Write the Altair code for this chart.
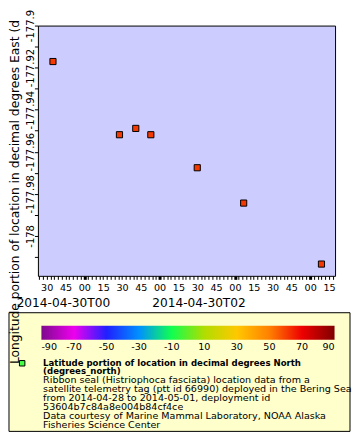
import altair as alt
import pandas as pd

# ---------------- data ----------------
times = ["2014-04-29T23:35:00Z", "2014-04-30T00:28:00Z", "2014-04-30T00:41:00Z",
         "2014-04-30T00:53:00Z", "2014-04-30T01:30:00Z", "2014-04-30T02:07:00Z",
         "2014-04-30T03:09:00Z"]
longitudes = [-177.9171, -177.9519, -177.9489, -177.9519, -177.9676, -177.9844, -178.0134]
latitudes = [61.0, 61.1, 61.1, 61.1, 61.2, 61.2, 61.3]

legend_values = [-90, -70, -50, -30, -10, 10, 30, 50, 70, 90]
legend_colors = ["#7d0a8c", "#ee00ee", "#2020ff", "#0090ff", "#10ff50",
                 "#b0dd00", "#ffc800", "#ff8000", "#ee0000", "#800000"]

date_labels = ["2014-04-30T00", "2014-04-30T02"]
date_label_times = ["2014-04-30T00:00:00Z", "2014-04-30T02:00:00Z"]

y_title = "Longitude portion of location in decimal degrees East (d"
bold_lines = ["Latitude portion of location in decimal degrees North", "(degrees_north)"]
desc_lines = ["Ribbon seal (Histriophoca fasciata) location data from a",
              "satellite telemetry tag (ptt id 66990) deployed in the Bering Sea",
              "from 2014-04-28 to 2014-05-01, deployment id",
              "53604b7c84a8e004b84cf4ce",
              "Data courtesy of Marine Mammal Laboratory, NOAA Alaska",
              "Fisheries Science Center"]

y_domain = [-178.019, -177.9]
y_ticks = [round(-178.01 + 0.01 * i, 2) for i in range(12)]
x_ticks = [int(t.value // 10**6) for t in
           pd.date_range("2014-04-29T23:24:00", "2014-04-30T03:18:00", freq="3min", tz="UTC")]

df = pd.DataFrame({"time": times, "lon": longitudes, "lat": latitudes})
one = pd.DataFrame({"k": [0]})

FONT = "DejaVu Sans"
W, H = 298, 251
PT = 24.0   # page y of plot top
PL = 37.5   # page x of plot left

xscale = alt.Scale(type="utc",
                   domain=[alt.DateTime(year=2014, month=4, date=29, hours=23, minutes=23, utc=True),
                           alt.DateTime(year=2014, month=4, date=30, hours=3, minutes=19, seconds=50, utc=True)])
yscale = alt.Scale(domain=y_domain, nice=False, zero=False)

xaxis = alt.Axis(title=None, values=x_ticks, grid=False, domain=False,
                 labelExpr="utcminutes(datum.value) % 15 == 0 ? utcFormat(datum.value, '%M') : ''",
                 labelFont=FONT, labelFontSize=9.6, labelColor="black",
                 labelFlush=False, labelOverlap=False, labelBound=False,
                 labelBaseline="alphabetic", labelPadding=11.5,
                 tickSize=3.5, tickColor="black",
                 tickWidth={"condition": {"test": "utcminutes(datum.value) == 0", "value": 3}, "value": 1},
                 zindex=1)

yaxis = alt.Axis(title=y_title, values=y_ticks, grid=False, domain=False,
                 labelExpr="round(datum.value * 100) % 2 == 0 ? '' + datum.value : ''",
                 labelFont=FONT, labelFontSize=10, labelColor="black",
                 labelAngle=270, labelAlign="center", labelBaseline="alphabetic",
                 labelPadding=1, labelOverlap=False, labelFlush=False,
                 tickSize=3.5, tickColor="black",
                 titleFont=FONT, titleFontSize=12.3, titleFontWeight="normal", titleColor="black",
                 titleAngle=270, titleAlign="left", titleBaseline="alphabetic",
                 titleX=-19, titleY=363 - PT, zindex=1)

box = alt.Chart(one).mark_rect(fill="#ffffcc", stroke="black", strokeWidth=1).encode(
    x=alt.value(-29), x2=alt.value(313),
    y=alt.value(312 - PT), y2=alt.value(431 - PT))

points = alt.Chart(df).mark_square(size=38, stroke="black", strokeWidth=1, opacity=1).encode(
    x=alt.X("time:T", scale=xscale, axis=xaxis),
    y=alt.Y("lon:Q", scale=yscale, axis=yaxis),
    color=alt.Color("lat:Q",
                    scale=alt.Scale(domain=legend_values, range=legend_colors, interpolate="rgb"),
                    legend=alt.Legend(orient="none", legendX=41 - PL, legendY=325 - PT,
                                      direction="horizontal", type="gradient",
                                      gradientLength=294, gradientThickness=14,
                                      gradientStrokeWidth=0, values=legend_values,
                                      labelExpr="'' + datum.value",
                                      labelAlign="center", labelFont=FONT, labelFontSize=9.6,
                                      labelColor="black", labelOffset=2, labelOverlap=False,
                                      title=None, padding=0)))

date_layers = []
for lab, t, dx in zip(date_labels, date_label_times, [-21, -36]):
    d = pd.DataFrame({"time": [t], "label": [lab]})
    date_layers.append(
        alt.Chart(d).mark_text(font=FONT, fontSize=12.2, color="black", align="center",
                               baseline="alphabetic", dx=dx).encode(
            x=alt.X("time:T", scale=xscale, axis=xaxis), y=alt.value(306 - PT), text="label:N"))

swatch = alt.Chart(one).mark_square(size=30, fill="#44ff44", stroke="black",
                                    strokeWidth=1, opacity=1).encode(
    x=alt.value(21.7 - PL), y=alt.value(362.7 - PT))

bold_text = alt.Chart(one).mark_text(font=FONT, fontSize=8.6, fontWeight="bold", color="black",
                                     align="left", baseline="alphabetic", lineHeight=8.9,
                                     text=bold_lines).encode(
    x=alt.value(42.7 - PL), y=alt.value(365 - PT))

desc_text = alt.Chart(one).mark_text(font=FONT, fontSize=9.6, color="black",
                                     align="left", baseline="alphabetic", lineHeight=8.9,
                                     text=desc_lines).encode(
    x=alt.value(42.7 - PL), y=alt.value(365 + 2 * 8.9 - PT))

chart = alt.layer(box, points, *date_layers, swatch, bold_text, desc_text).properties(
    width=W, height=H, padding=0, background="white"
).configure_view(fill="#ccccff", stroke="black", strokeWidth=1)

chart.save("out.html", embed_options={"renderer": "svg", "actions": False})
